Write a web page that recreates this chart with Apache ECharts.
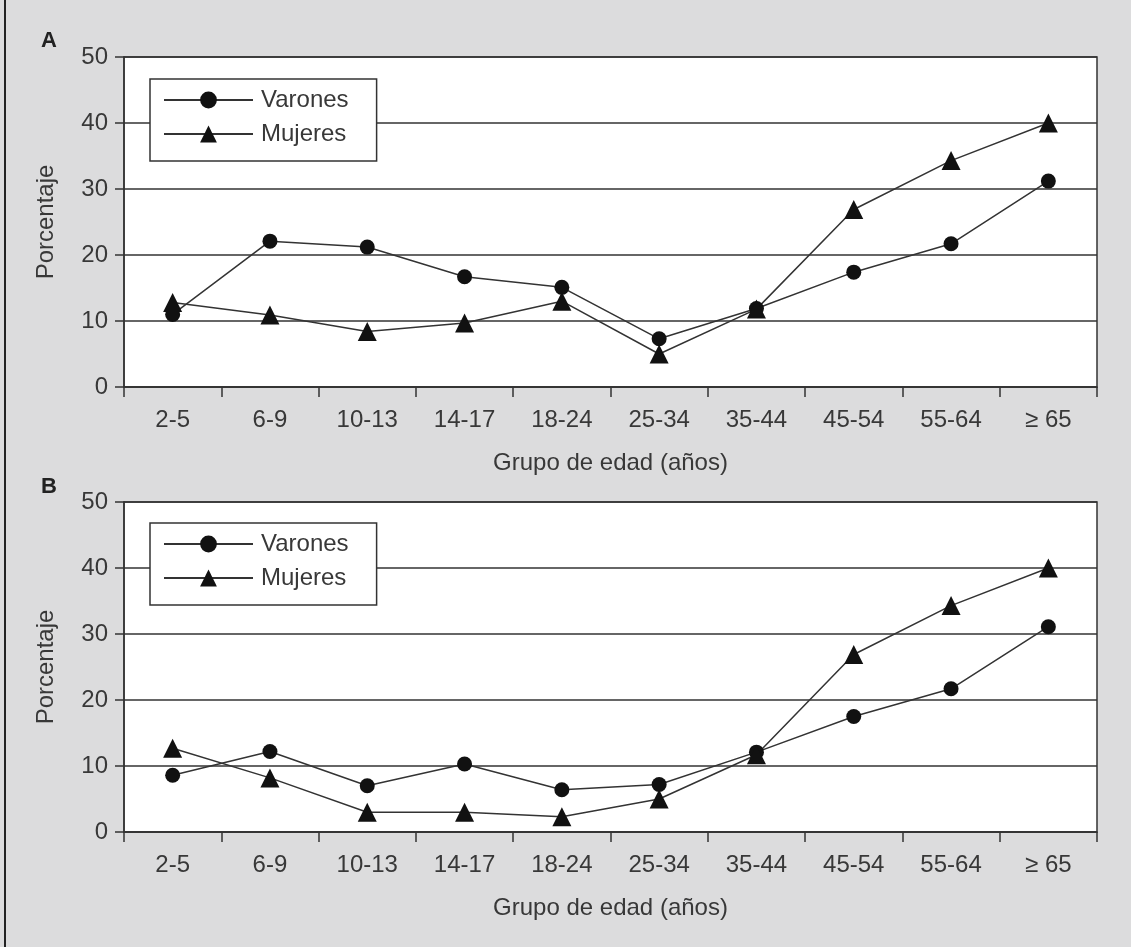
<!DOCTYPE html>
<html>
<head>
<meta charset="utf-8">
<script src="https://cdn.jsdelivr.net/npm/echarts@6/dist/echarts.min.js"></script>
<style>
  html, body { margin: 0; padding: 0; background: #dcdcdd; }
  #chart { width: 1131px; height: 947px; }
</style>
</head>
<body>
<div id="chart"></div>
<script>
const categories = ['2-5', '6-9', '10-13', '14-17', '18-24', '25-34', '35-44', '45-54', '55-64', '≥ 65'];
const varonesA = [11.0, 22.1, 21.2, 16.7, 15.1, 7.3, 11.9, 17.4, 21.7, 31.2];
const mujeresA = [12.8, 10.9, 8.4, 9.7, 13.0, 5.0, 11.8, 26.9, 34.3, 40.0];
const varonesB = [8.6, 12.2, 7.0, 10.3, 6.4, 7.2, 12.1, 17.5, 21.7, 31.1];
const mujeresB = [12.7, 8.2, 3.0, 3.0, 2.3, 5.0, 11.7, 26.9, 34.3, 40.0];
const seriesNames = ['Varones', 'Mujeres'];
const panelLabels = ['A', 'B'];
const xAxisTitle = 'Grupo de edad (años)';
const yAxisTitle = 'Porcentaje';
const yMin = 0, yMax = 50, yStep = 10;

const FONT = '"Liberation Sans", Arial, sans-serif';
const TXT = '#383838';
const LINE = '#333';

const grids = [
  { left: 124, top: 57, width: 973, height: 330 },
  { left: 124, top: 502, width: 973, height: 330 }
];

function xAx(i) {
  return {
    gridIndex: i, type: 'category', data: categories, boundaryGap: true,
    axisLine: { lineStyle: { color: LINE, width: 1.5 } },
    axisTick: { show: true, interval: 0, length: 10, lineStyle: { color: LINE, width: 1.5 } },
    axisLabel: { interval: 0, margin: 21, color: TXT, fontSize: 24, fontFamily: FONT },
    name: xAxisTitle, nameLocation: 'middle', nameGap: 64,
    nameTextStyle: { color: TXT, fontSize: 24, fontFamily: FONT }
  };
}
function yAx(i) {
  return {
    gridIndex: i, type: 'value', min: yMin, max: yMax, interval: yStep,
    axisLine: { show: true, lineStyle: { color: LINE, width: 1.5 } },
    axisTick: { show: true, length: 9, lineStyle: { color: LINE, width: 1.5 } },
    axisLabel: { margin: 16, color: TXT, fontSize: 24, fontFamily: FONT },
    splitLine: { show: true, lineStyle: { color: LINE, width: 1.5 } },
    name: yAxisTitle, nameLocation: 'middle', nameGap: 66, nameRotate: 90,
    nameTextStyle: { color: TXT, fontSize: 24, fontFamily: FONT }
  };
}
function ser(name, data, i, symbol, size) {
  return {
    name: name, type: 'line', xAxisIndex: i, yAxisIndex: i, data: data,
    symbol: symbol, symbolSize: size, showAllSymbol: true,
    itemStyle: { color: '#111' },
    lineStyle: { color: '#333', width: 1.5 },
    emphasis: { disabled: true }, animation: false
  };
}
function leg(top) {
  return {
    data: seriesNames, orient: 'vertical', left: 150, top: top,
    backgroundColor: '#fff', borderColor: '#333', borderWidth: 1.5, borderRadius: 0,
    padding: [9, 28, 15, 13], itemGap: 10, itemWidth: 89, itemHeight: 21,
    selectedMode: false,
    textStyle: { color: TXT, fontSize: 24, fontFamily: FONT, lineHeight: 24, padding: [0, 0, 0, 3] }
  };
}

const chart = echarts.init(document.getElementById('chart'), null, { renderer: 'canvas' });
chart.setOption({
  backgroundColor: '#dcdcdd',
  animation: false,
  title: [
    { text: panelLabels[0], left: 36, top: 25, textStyle: { fontSize: 22, fontWeight: 'bold', color: '#222', fontFamily: FONT } },
    { text: panelLabels[1], left: 36, top: 471, textStyle: { fontSize: 22, fontWeight: 'bold', color: '#222', fontFamily: FONT } }
  ],
  grid: grids.map(g => Object.assign({ show: true, backgroundColor: '#fff', borderColor: LINE, borderWidth: 1.5 }, g)),
  legend: [leg(79), leg(523)],
  xAxis: [xAx(0), xAx(1)],
  yAxis: [yAx(0), yAx(1)],
  series: [
    ser(seriesNames[0], varonesA, 0, 'circle', 15),
    ser(seriesNames[1], mujeresA, 0, 'triangle', 19),
    ser(seriesNames[0], varonesB, 1, 'circle', 15),
    ser(seriesNames[1], mujeresB, 1, 'triangle', 19)
  ],
  graphic: [
    { type: 'line', shape: { x1: 5, y1: 0, x2: 5, y2: 947 }, style: { stroke: '#222', lineWidth: 2 } }
  ]
});
</script>
</body>
</html>
